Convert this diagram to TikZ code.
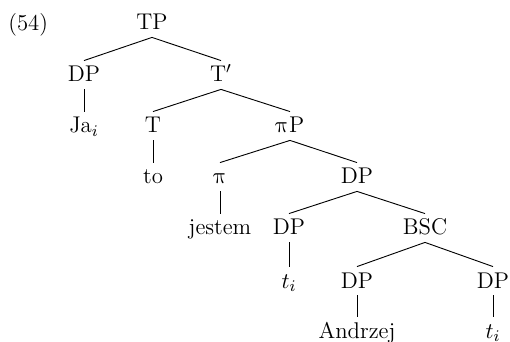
\documentclass[tikz,border=0pt]{standalone}
\usepackage{fontspec}
\newfontfamily\pifont{Latin Modern Math}
\newcommand{\upi}{{\pifont π}}
\begin{document}
\begin{tikzpicture}[x=0.4925pt,y=-0.4925pt,
  font=\fontsize{11.2pt}{13pt}\selectfont,
  cat/.style={anchor=base,inner xsep=1pt,inner ysep=2.65pt,text height=7.7pt,text depth=0.8pt},
  branch/.style={line width=0.45pt}]
\useasboundingbox (0,0) rectangle (510,342);
% example number
\node[anchor=base west,inner sep=0pt] (ex) at (8,31) {(54)};
% tree nodes, one row per level
\node[cat] (tp)  at (152,30) {TP};
\node[cat] (dpa) at (84,82) {DP};
\node[cat] (tb)  at (221,82) {T$'$};
\node[cat] (ja)  at (84,133) {Ja$_i$};
\node[cat] (t)   at (153,133) {T};
\node[cat] (pip) at (290,133) {\upi P};
\node[cat] (to)  at (153,184) {to};
\node[cat] (pi)  at (220,184) {\upi};
\node[cat] (dpb) at (357,184) {DP};
\node[cat] (jes) at (220,235) {jestem};
\node[cat] (dpc) at (289,235) {DP};
\node[cat] (bsc) at (425,235) {BSC};
\node[cat] (tia) at (289,288) {$t_i$};
\node[cat] (dpd) at (357,288) {DP};
\node[cat] (dpe) at (493,288) {DP};
\node[cat] (and) at (357,338) {Andrzej};
\node[cat] (tib) at (493,338) {$t_i$};
% branches
\draw[branch] (tp.south) -- (dpa.north);
\draw[branch] (tp.south) -- (tb.north);
\draw[branch] (dpa.south) -- (ja.north);
\draw[branch] (tb.south) -- (t.north);
\draw[branch] (tb.south) -- (pip.north);
\draw[branch] (t.south) -- (to.north);
\draw[branch] (pip.south) -- (pi.north);
\draw[branch] (pip.south) -- (dpb.north);
\draw[branch] (pi.south) -- (jes.north);
\draw[branch] (dpb.south) -- (dpc.north);
\draw[branch] (dpb.south) -- (bsc.north);
\draw[branch] (dpc.south) -- (tia.north);
\draw[branch] (bsc.south) -- (dpd.north);
\draw[branch] (bsc.south) -- (dpe.north);
\draw[branch] (dpd.south) -- (and.north);
\draw[branch] (dpe.south) -- (tib.north);
\end{tikzpicture}
\end{document}
